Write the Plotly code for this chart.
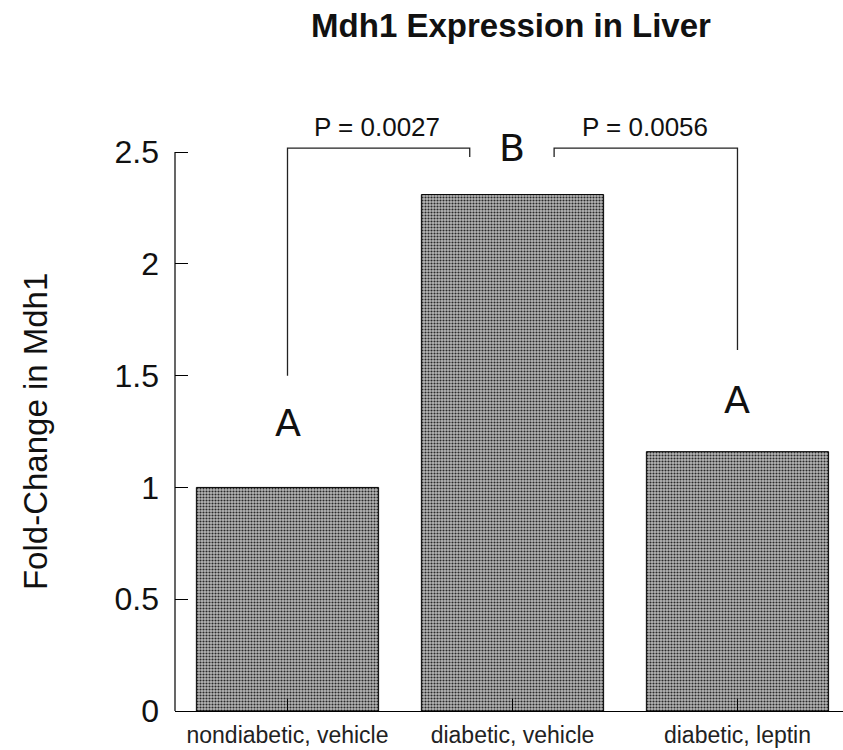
import plotly.graph_objects as go

categories = ["nondiabetic, vehicle", "diabetic, vehicle", "diabetic, leptin"]
fold_change = [1.0, 2.31, 1.16]
group_letters = ["A", "B", "A"]
p_labels = ["P = 0.0027", "P = 0.0056"]
y_tickvals = [0, 0.5, 1, 1.5, 2, 2.5]
y_ticktext = ["0", "0.5", "1", "1.5", "2", "2.5"]

FONT = "Liberation Sans, Arial, Helvetica, sans-serif"

fig = go.Figure()
fig.add_trace(go.Bar(
    x=[0, 1, 2],
    y=fold_change,
    width=0.81,
    marker=dict(
        color="#8c8c8c",
        line=dict(color="black", width=1),
        pattern=dict(shape=".", size=3, solidity=0.4, fgcolor="#2a2a2a", bgcolor="#b8b8b8", fillmode="replace"),
    ),
    showlegend=False,
    hoverinfo="skip",
))

# y axis line from 0 to 2.5 only
fig.add_shape(type="line", xref="paper", yref="y", x0=0, x1=0, y0=0, y1=2.5,
              line=dict(color="black", width=1.2))

# significance brackets
bracket_top = 2.518
fig.add_trace(go.Scatter(
    x=[0, 0, 0.81, 0.81], y=[fold_change[0] + 0.5, bracket_top, bracket_top, bracket_top - 0.04],
    mode="lines", line=dict(color="#222", width=1.3), showlegend=False, hoverinfo="skip"))
fig.add_trace(go.Scatter(
    x=[1.185, 1.185, 2.0, 2.0], y=[bracket_top - 0.04, bracket_top, bracket_top, fold_change[2] + 0.455],
    mode="lines", line=dict(color="#222", width=1.3), showlegend=False, hoverinfo="skip"))

# p-values
fig.add_annotation(x=0.4, y=2.61, text=p_labels[0], showarrow=False,
                   font=dict(family=FONT, size=26, color="#111"))
fig.add_annotation(x=1.59, y=2.61, text=p_labels[1], showarrow=False,
                   font=dict(family=FONT, size=26, color="#111"))

# group letters
letter_y = [1.29, 2.518, 1.39]
for i, (lt, ly) in enumerate(zip(group_letters, letter_y)):
    fig.add_annotation(x=i, y=ly, text=lt, showarrow=False,
                       font=dict(family="DejaVu Sans, sans-serif", size=38, color="#111"))

# y-axis title centered on the 0-2.5 axis
fig.add_annotation(xref="paper", x=0, xshift=-160, yref="y", y=1.25,
                   text="Fold-Change in Mdh1", textangle=-90, showarrow=False,
                   font=dict(family=FONT, size=33, color="#111"))

fig.update_layout(
    width=843, height=750,
    margin=dict(l=175, r=0, t=85, b=39, pad=0),
    plot_bgcolor="white", paper_bgcolor="white",
    title=dict(text="<b>Mdh1 Expression in Liver</b>", x=511 / 843, xanchor="center",
               y=1 - 25 / 750, yanchor="middle",
               font=dict(family=FONT, size=33, color="#111")),
    bargap=0.19,
)
fig.update_xaxes(
    range=[-0.5, 2.469],
    tickmode="array", tickvals=[0, 1, 2], ticktext=categories,
    tickson="boundaries",
    ticks="inside", ticklen=12, tickcolor="black", tickwidth=1,
    showline=True, linecolor="black", linewidth=1.2,
    showgrid=False, zeroline=False,
    ticklabelstandoff=3,
    tickfont=dict(family=FONT, size=23, color="#222"),
)
fig.update_yaxes(
    range=[0, 2.8],
    tickmode="array", tickvals=y_tickvals, ticktext=y_ticktext,
    ticks="inside", ticklen=13, tickcolor="black", tickwidth=1,
    showline=False, showgrid=False, zeroline=False,
    ticklabelstandoff=15,
    tickfont=dict(family=FONT, size=32, color="#111"),
)

fig.write_html("out.html")
